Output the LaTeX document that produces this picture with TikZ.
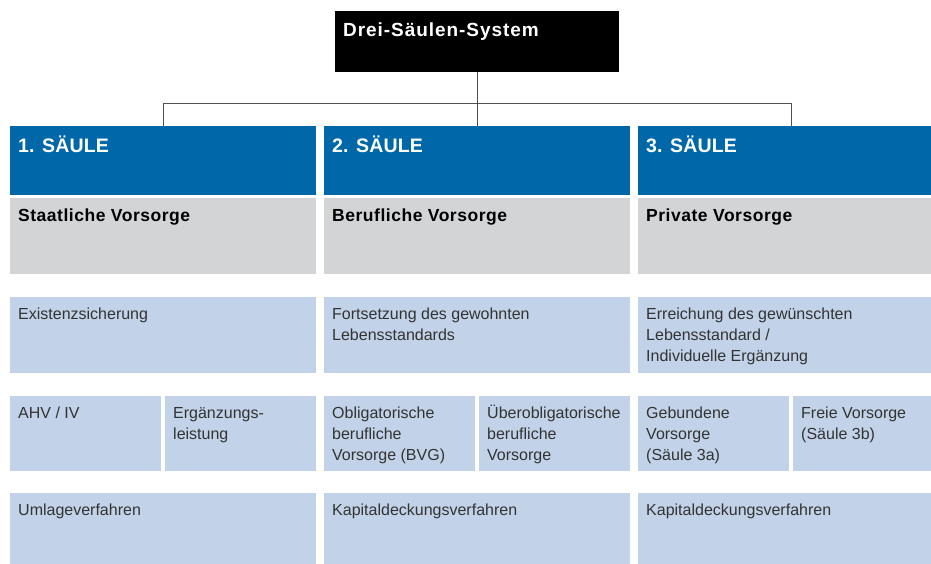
\documentclass[tikz,border=0pt]{standalone}
\usepackage{fontspec}
\setmainfont{Liberation Sans}
\newfontfamily\sperrfont[LetterSpace=3]{Liberation Sans}
\newfontfamily\kopffont[LetterSpace=1]{Liberation Sans}
\newfontfamily\titelfont[LetterSpace=5]{Liberation Sans}
\definecolor{saeuleblau}{HTML}{0068A9}
\definecolor{artgrau}{HTML}{D3D4D6}
\definecolor{zeilenblau}{HTML}{C2D2E8}
\definecolor{textgrau}{HTML}{333333}
\definecolor{liniengrau}{HTML}{505050}

\begin{document}
\begin{tikzpicture}[x=1pt, y=1pt,
  feld/.style={anchor=north west, inner sep=0pt, minimum width=306pt},
  kopf/.style={feld, fill=saeuleblau, minimum height=68.5pt},
  art/.style={feld, fill=artgrau, minimum height=76.5pt},
  zeile/.style={feld, fill=zeilenblau, minimum height=76.2pt},
  halb/.style={zeile, minimum width=151pt, minimum height=75.4pt},
  fliess/.style={anchor=north west, inner sep=0pt, align=left, text=textgrau, font=\fontsize{16}{21}\selectfont},
  kopftext/.style={anchor=north west, inner sep=0pt, text=white, font=\kopffont\bfseries\fontsize{19.5}{23}\selectfont},
  arttext/.style={anchor=north west, inner sep=0pt, text=black, font=\sperrfont\bfseries\fontsize{17.5}{21}\selectfont},
  verbinder/.style={draw=liniengrau, line width=0.8pt}]
\useasboundingbox (0, 0) rectangle (931, -563);

% title
\node[fill=black, anchor=north west, inner sep=0pt, minimum width=284pt, minimum height=61pt] (system) at (335, -11) {};
\node[anchor=north west, inner sep=0pt, text=white, font=\titelfont\bfseries\fontsize{19}{22}\selectfont] (systemtext) at ([shift={(8, -10.3)}]system.north west) {\strut Drei-Säulen-System};

% pillars
\node[kopf] (saeule1) at (10, -126) {};
\node[kopf] (saeule2) at (324, -126) {};
\node[kopf] (saeule3) at (638, -126) {};
\node[kopftext] at ([shift={(8, -9.9)}]saeule1.north west) {\strut 1. SÄULE};
\node[kopftext] at ([shift={(8, -9.9)}]saeule2.north west) {\strut 2. SÄULE};
\node[kopftext] at ([shift={(8, -9.9)}]saeule3.north west) {\strut 3. SÄULE};

\draw[verbinder] (system.south) -- (saeule2.north);
\draw[verbinder] (saeule1.north) -- ++(0, 23) -| (saeule3.north);

% kind of provision
\node[art] (art1) at (10, -197.5) {};
\node[art] (art2) at (324, -197.5) {};
\node[art] (art3) at (638, -197.5) {};
\node[arttext] at ([shift={(8, -8.8)}]art1.north west) {\strut Staatliche Vorsorge};
\node[arttext] at ([shift={(8, -8.8)}]art2.north west) {\strut Berufliche Vorsorge};
\node[arttext] at ([shift={(8, -8.8)}]art3.north west) {\strut Private Vorsorge};

% aim
\node[zeile] (ziel1) at (10, -296.5) {};
\node[zeile] (ziel2) at (324, -296.5) {};
\node[zeile] (ziel3) at (638, -296.5) {};
\node[fliess] at ([shift={(8, -8.3)}]ziel1.north west) {\strut Existenzsicherung};
\node[fliess] at ([shift={(8, -8.3)}]ziel2.north west) {\strut Fortsetzung des gewohnten\\Lebensstandards};
\node[fliess] at ([shift={(8, -8.3)}]ziel3.north west) {\strut Erreichung des gewünschten\\Lebensstandard /\\Individuelle Ergänzung};

% parts
\node[halb] (teil1a) at (10, -395.3) {};
\node[halb] (teil1b) at (165, -395.3) {};
\node[halb] (teil2a) at (324, -395.3) {};
\node[halb] (teil2b) at (479, -395.3) {};
\node[halb] (teil3a) at (638, -395.3) {};
\node[halb] (teil3b) at (793, -395.3) {};
\node[fliess] at ([shift={(8, -8.3)}]teil1a.north west) {\strut AHV / IV};
\node[fliess] at ([shift={(8, -8.3)}]teil1b.north west) {\strut Ergänzungs-\\leistung};
\node[fliess] at ([shift={(8, -8.3)}]teil2a.north west) {\strut Obligatorische\\berufliche\\Vorsorge (BVG)};
\node[fliess] at ([shift={(8, -8.3)}]teil2b.north west) {\strut Überobligatorische\\berufliche\\Vorsorge};
\node[fliess] at ([shift={(8, -8.3)}]teil3a.north west) {\strut Gebundene\\Vorsorge\\(Säule 3a)};
\node[fliess] at ([shift={(8, -8.3)}]teil3b.north west) {\strut Freie Vorsorge\\(Säule 3b)};

% financing
\node[zeile] (verf1) at (10, -492.7) {};
\node[zeile] (verf2) at (324, -492.7) {};
\node[zeile] (verf3) at (638, -492.7) {};
\node[fliess] at ([shift={(8, -8.3)}]verf1.north west) {\strut Umlageverfahren};
\node[fliess] at ([shift={(8, -8.3)}]verf2.north west) {\strut Kapitaldeckungsverfahren};
\node[fliess] at ([shift={(8, -8.3)}]verf3.north west) {\strut Kapitaldeckungsverfahren};
\end{tikzpicture}
\end{document}
